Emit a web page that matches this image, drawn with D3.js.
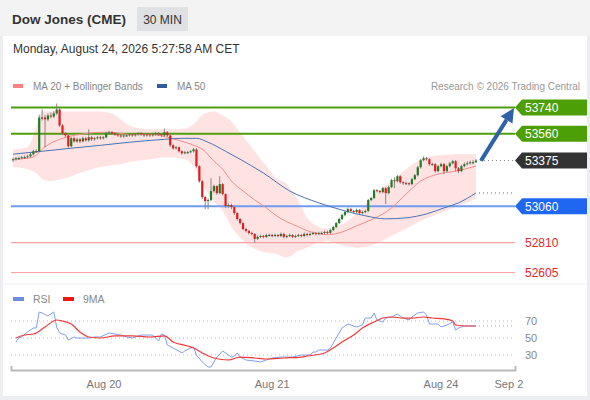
<!DOCTYPE html>
<html>
<head>
<meta charset="utf-8">
<script src="https://cdn.jsdelivr.net/npm/d3@7"></script>
<style>
  body { margin: 0; background: #eceef1; font-family: "Liberation Sans", Arial, sans-serif; }
</style>
</head>
<body>
<svg id="chart" width="590" height="400"></svg>
<script>
const TITLE = 'Dow Jones (CME)';
const PERIOD = '30 MIN';
const STAMP = 'Monday, August 24, 2026 5:27:58 AM CET';
const CREDIT = 'Research \u00a9 2026 Trading Central';

// [open, high, low, close] per 30 min candle
const candles = [
  [53377,53395,53365,53384],[53384,53400,53375,53391],[53391,53402,53380,53391],[53391,53408,53385,53398],
  [53398,53410,53388,53398],[53398,53415,53390,53404],[53404,53428,53396,53418],[53418,53448,53410,53439],
  [53439,53452,53428,53439],[53439,53690,53432,53671],[53671,53726,53650,53671],[53671,53690,53466,53658],
  [53658,53700,53645,53685],[53685,53705,53665,53678],[53678,53715,53668,53699],[53699,53767,53690,53726],
  [53726,53735,53605,53617],[53617,53625,53550,53562],[53562,53570,53535,53548],[53548,53555,53465,53473],
  [53473,53538,53466,53528],[53528,53540,53498,53507],[53507,53532,53497,53521],[53521,53530,53495,53507],
  [53507,53540,53500,53528],[53528,53538,53505,53514],[53514,53589,53505,53535],[53535,53545,53510,53521],
  [53521,53538,53512,53528],[53528,53545,53520,53535],[53535,53545,53518,53528],[53528,53545,53520,53535],
  [53535,53572,53528,53562],[53562,53580,53555,53569],[53569,53578,53552,53562],[53562,53570,53545,53555],
  [53555,53562,53538,53548],[53548,53555,53532,53541],[53541,53558,53532,53548],[53548,53558,53538,53548],
  [53548,53565,53540,53555],[53555,53562,53538,53548],[53548,53565,53540,53555],[53555,53572,53546,53562],
  [53562,53570,53545,53555],[53555,53562,53538,53548],[53548,53565,53540,53555],[53555,53562,53538,53548],
  [53548,53565,53540,53555],[53555,53572,53546,53562],[53562,53570,53545,53555],[53555,53562,53538,53548],
  [53548,53595,53540,53569],[53569,53578,53538,53548],[53548,53555,53470,53480],[53480,53488,53450,53459],
  [53459,53476,53450,53466],[53466,53472,53430,53439],[53439,53446,53415,53425],[53425,53442,53418,53432],
  [53432,53442,53422,53432],[53432,53448,53424,53439],[53439,53462,53430,53452],[53452,53460,53326,53336],
  [53336,53342,53222,53233],[53233,53240,53110,53124],[53124,53130,53041,53096],[53096,53115,53041,53103],
  [53103,53254,53095,53165],[53165,53210,53155,53199],[53199,53205,53140,53151],[53151,53267,53145,53213],
  [53213,53220,53135,53144],[53144,53150,53048,53062],[53062,53080,53050,53069],[53069,53078,53040,53055],
  [53055,53060,53000,53014],[53014,53020,52962,52973],[52973,52980,52935,52945],[52945,52950,52895,52904],
  [52904,52912,52880,52891],[52891,52898,52866,52877],[52877,52885,52860,52870],[52870,52876,52808,52836],
  [52836,52860,52828,52850],[52850,52866,52842,52856],[52856,52864,52840,52850],[52850,52872,52842,52863],
  [52863,52873,52853,52863],[52863,52870,52846,52856],[52856,52872,52848,52863],[52863,52870,52846,52856],
  [52856,52880,52848,52870],[52870,52878,52840,52850],[52850,52866,52842,52856],[52856,52872,52848,52863],
  [52863,52870,52840,52850],[52850,52866,52842,52856],[52856,52872,52848,52863],[52863,52870,52846,52856],
  [52856,52880,52848,52870],[52870,52878,52853,52863],[52863,52880,52855,52870],[52870,52886,52862,52877],
  [52877,52885,52860,52870],[52870,52886,52862,52877],[52877,52887,52867,52877],[52877,52893,52868,52884],
  [52884,52892,52867,52877],[52877,52906,52870,52897],[52897,52926,52890,52918],[52918,52953,52910,52945],
  [52945,52982,52938,52973],[52973,53010,52966,53000],[53000,53030,52992,53021],[53021,53052,53012,53041],
  [53041,53050,53018,53028],[53028,53035,53010,53021],[53021,53045,53012,53035],[53035,53042,53004,53014],
  [53014,53030,53005,53021],[53021,53038,53012,53028],[53028,53112,53020,53103],[53103,53126,53095,53117],
  [53117,53180,53110,53171],[53171,53178,53155,53165],[53165,53172,53148,53158],[53158,53195,53150,53185],
  [53185,53192,53076,53151],[53151,53202,53142,53192],[53192,53250,53185,53240],[53240,53260,53185,53233],
  [53233,53276,53225,53267],[53267,53274,53216,53226],[53226,53232,53208,53219],[53219,53230,53209,53219],
  [53219,53226,53203,53213],[53213,53256,53205,53247],[53247,53283,53240,53274],[53274,53338,53266,53329],
  [53329,53386,53320,53377],[53377,53404,53370,53391],[53391,53400,53374,53384],[53384,53390,53340,53350],
  [53350,53360,53340,53350],[53350,53358,53292,53302],[53302,53345,53295,53336],[53336,53360,53328,53350],
  [53350,53358,53282,53302],[53302,53345,53295,53336],[53336,53366,53328,53356],[53356,53380,53348,53370],
  [53370,53378,53300,53322],[53322,53330,53288,53302],[53302,53346,53295,53336],[53336,53362,53328,53350],
  [53350,53370,53342,53356],[53356,53375,53348,53363],[53363,53378,53352,53363],[53363,53385,53360,53375]
];

// MA 20 + Bollinger bands, sampled at candle indices
const bandIdx = [0,5,8,10,13,17,23,30,34,37,40,47,53,59,63,65,69,72,75,79,83,87,90,94,98,101,105,108,111,115,118,123,130,135,140,146,152,159];
const ma20 = [53384,53391,53412,53453,53494,53528,53555,53569,53569,53562,53555,53555,53535,53501,53473,53453,53371,53316,53234,53166,53104,53049,53002,52954,52920,52892,52872,52865,52872,52899,52926,52967,53049,53145,53234,53282,53302,53337];
const bbUpper = [53453,53467,53610,53713,53713,53713,53713,53713,53699,53658,53617,53590,53590,53596,53644,53692,53713,53685,53644,53542,53439,53337,53261,53214,53097,52981,52920,52906,52920,52961,53015,53118,53234,53316,53384,53412,53419,53419];
const bbLower = [53330,53316,53289,53248,53234,53248,53289,53330,53343,53350,53364,53384,53398,53384,53302,53214,53097,53029,52920,52824,52769,52742,52735,52708,52755,52776,52810,52824,52803,52783,52776,52790,52858,52906,52961,53008,53056,53111];

const ma50Idx = [0,10,20,30,40,52,58,63,67,73,78,86,95,105,114,121,128,135,142,148,153,159];
const ma50 = [53419,53439,53460,53480,53501,53521,53528,53528,53501,53439,53384,53289,53166,53084,53029,52995,52974,52981,53008,53049,53084,53152];

const rsiIdx = [1,2,3,5,7,8,9,10,12,14,15,16,18,19,21,22,24,26,28,30,33,35,37,39,41,44,46,48,50,51,52,53,55,58,59,61,62,63,65,67,68,70,72,74,75,76,77,78,80,83,85,87,89,92,94,96,99,102,103,104,105,108,109,111,113,115,117,118,120,121,123,124,125,127,128,130,132,134,136,137,139,141,142,143,146,147,149,151,152,153,155,158,159];
const rsi = [45.3,50,51.2,57.1,61.8,61.8,80.6,79.4,75.9,80.6,62.9,55.9,53.5,47.6,51.2,50,50,50,51.2,51.2,55.9,54.7,53.5,51.2,50,53.5,53.5,53.5,46.5,54.7,53.5,41.8,38.2,32.4,34.7,38.2,39.4,30,21.8,15.9,15.9,27.6,34.7,30,27.6,28.8,32.4,27.6,24.1,22.9,21.8,24.1,26.5,27.6,27.6,27.6,30,30,33.5,33.5,35.9,35.9,38.2,50,61.8,66.5,64.1,62.9,65.3,73.5,73.5,79.4,71.2,68.8,73.5,74.7,78.2,73.5,71.2,74.7,79.4,80.6,77.1,66.5,66.5,62.9,65.3,68.8,59.4,61.8,64.1,64.1,64.1];

const rsiMaIdx = [1,4,7,11,15,17,20,23,26,30,35,41,47,52,55,60,62,65,69,74,78,83,87,93,99,101,107,110,113,117,120,124,127,130,134,137,141,144,148,151,152,156,159];
const rsiMa = [50,53.5,54.7,62.9,71.2,70,66.5,57.1,51.2,50,52.4,52.4,51.2,52.4,45.3,40.6,38.2,32.4,26.5,24.1,27.6,26.5,25.3,26.5,27.6,28.8,32.4,38.2,45.3,53.5,61.8,68.8,73.5,74.7,73.5,73.5,74.7,73.5,72.4,70,65.3,64.1,64.1];

const resistances = [53740, 53560];
const pivot = 53060;
const supports = [52810, 52605];
const lastPrice = 53375;

const rsiTicks = [70, 50, 30];
const tickLabels = ['Aug 20', 'Aug 21', 'Aug 24', 'Sep 2'];
const tickIdx = [31.25, 89, 147, 170.3];

function draw() {
  const svg = d3.select('#chart');
  const W = 590;
  const left = 11, right = 515;

  // frame + header
  svg.append('rect').attr('x', 3).attr('y', 0).attr('width', 584).attr('height', 396).attr('fill', '#fff');
  svg.append('rect').attr('x', 0).attr('y', 0).attr('width', W).attr('height', 36).attr('fill', '#f3f3f3');
  svg.append('text').attr('x', 12).attr('y', 24).text(TITLE)
    .attr('font-size', 13.5).attr('font-weight', 700).attr('fill', '#333');
  svg.append('rect').attr('x', 137).attr('y', 7).attr('width', 51).attr('height', 24).attr('fill', '#dfe1e4');
  svg.append('text').attr('x', 162.5).attr('y', 23.5).attr('text-anchor', 'middle').text(PERIOD)
    .attr('font-size', 12).attr('fill', '#333');
  svg.append('text').attr('x', 13).attr('y', 53).text(STAMP).attr('font-size', 12).attr('fill', '#333');

  // legend
  const legend = [
    { x: 13, color: '#ff8080', label: 'MA 20 + Bollinger Bands' },
    { x: 157, color: '#2f5c9c', label: 'MA 50' }
  ];
  legend.forEach(l => {
    svg.append('rect').attr('x', l.x).attr('y', 84).attr('width', 10).attr('height', 4).attr('fill', l.color);
    svg.append('text').attr('x', l.x + 20).attr('y', 90).text(l.label).attr('font-size', 10).attr('fill', '#888');
  });
  svg.append('text').attr('x', 580).attr('y', 90).attr('text-anchor', 'end').text(CREDIT)
    .attr('font-size', 10).attr('fill', '#999');

  const x = d3.scaleLinear().domain([0, candles.length - 1]).range([13, 476]);
  const y = d3.scaleLinear().domain([52605, 53740]).range([272.5, 107.5]);

  // bollinger band fill
  const band = bandIdx.map((i, k) => ({ i, u: bbUpper[k], l: bbLower[k], m: ma20[k] }));
  svg.append('path').datum(band)
    .attr('d', d3.area().x(d => x(d.i)).y0(d => y(d.l)).y1(d => y(d.u)).curve(d3.curveMonotoneX))
    .attr('fill', '#ffe3e3');

  // horizontal levels
  const lineG = svg.append('g');
  resistances.forEach(v => {
    lineG.append('line').attr('x1', left).attr('x2', right).attr('y1', y(v)).attr('y2', y(v))
      .attr('stroke', '#4f9e0c').attr('stroke-width', 2);
  });
  lineG.append('line').attr('x1', left).attr('x2', right).attr('y1', y(pivot)).attr('y2', y(pivot))
    .attr('stroke', '#6f9cf2').attr('stroke-width', 2);
  supports.forEach(v => {
    lineG.append('line').attr('x1', left).attr('x2', right).attr('y1', y(v)).attr('y2', y(v))
      .attr('stroke', '#f7a3a3').attr('stroke-width', 1.2);
  });

  // moving averages
  svg.append('path').datum(band)
    .attr('d', d3.line().x(d => x(d.i)).y(d => y(d.m)).curve(d3.curveMonotoneX))
    .attr('fill', 'none').attr('stroke', '#f58c8c').attr('stroke-width', 1);
  const ma50Pts = ma50Idx.map((i, k) => ({ i, v: ma50[k] }));
  svg.append('path').datum(ma50Pts)
    .attr('d', d3.line().x(d => x(d.i)).y(d => y(d.v)).curve(d3.curveMonotoneX))
    .attr('fill', 'none').attr('stroke', '#4a73b3').attr('stroke-width', 1);
  const lastMa50 = ma50[ma50.length - 1];
  svg.append('line').attr('x1', x(159) + 3).attr('x2', right).attr('y1', y(lastMa50)).attr('y2', y(lastMa50))
    .attr('stroke', '#4a73b3').attr('stroke-dasharray', '1,3');

  // candles
  const cg = svg.append('g');
  candles.forEach((c, i) => {
    const [o, h, l, cl] = c;
    const cx = x(i);
    const up = cl >= o;
    cg.append('line').attr('x1', cx).attr('x2', cx).attr('y1', y(h)).attr('y2', y(l))
      .attr('stroke', '#7a7a7a').attr('stroke-width', 0.9);
    const top = y(Math.max(o, cl));
    const hgt = Math.max(1, y(Math.min(o, cl)) - top);
    cg.append('rect').attr('x', cx - 1.1).attr('y', top).attr('width', 2.2).attr('height', hgt)
      .attr('fill', o === cl ? '#444' : (up ? '#1f7d24' : '#e01b1b'));
  });

  // last price dotted
  svg.append('line').attr('x1', x(159) + 4).attr('x2', right).attr('y1', y(lastPrice)).attr('y2', y(lastPrice))
    .attr('stroke', '#888').attr('stroke-dasharray', '1,3');

  // forecast arrow
  const ax0 = x(159) + 5, ay0 = y(lastPrice);
  const ax1 = 514, ay1 = y(resistances[0]) + 0.5;
  const ang = Math.atan2(ay1 - ay0, ax1 - ax0);
  const hl = 14, hw = 7;
  const bx = ax1 - hl * Math.cos(ang), by = ay1 - hl * Math.sin(ang);
  svg.append('line').attr('x1', ax0).attr('y1', ay0).attr('x2', bx).attr('y2', by)
    .attr('stroke', '#2f62a6').attr('stroke-width', 4);
  svg.append('path')
    .attr('d', `M${ax1},${ay1}L${bx + hw * Math.sin(ang)},${by - hw * Math.cos(ang)}L${bx - hw * Math.sin(ang)},${by + hw * Math.cos(ang)}Z`)
    .attr('fill', '#2f62a6');

  // price labels
  const tags = [
    ...resistances.map(v => ({ v, fill: '#4c9f06', text: '#fff' })),
    { v: lastPrice, fill: '#333', text: '#fff' },
    { v: pivot, fill: '#1f67f0', text: '#fff' }
  ];
  tags.forEach(t => {
    const ty = y(t.v);
    svg.append('path')
      .attr('d', `M515,${ty}L522,${ty - 8}L587,${ty - 8}L587,${ty + 8}L522,${ty + 8}Z`)
      .attr('fill', t.fill);
    svg.append('text').attr('x', 525).attr('y', ty + 4.5).text(t.v)
      .attr('font-size', 12).attr('fill', t.text);
  });
  supports.forEach(v => {
    svg.append('text').attr('x', 525).attr('y', y(v) + 4.5).text(v)
      .attr('font-size', 12).attr('fill', '#e8262a');
  });

  // panel separator
  svg.append('line').attr('x1', 3).attr('x2', 587).attr('y1', 284).attr('y2', 284).attr('stroke', '#eeeeee');

  // RSI panel
  const yR = d3.scaleLinear().domain([30, 70]).range([355, 321]);
  const rLegend = [
    { x: 13, color: '#6c8fe6', label: 'RSI' },
    { x: 63, color: '#f01515', label: '9MA' }
  ];
  rLegend.forEach(l => {
    svg.append('rect').attr('x', l.x).attr('y', 297).attr('width', 11).attr('height', 4).attr('fill', l.color);
    svg.append('text').attr('x', l.x + 20).attr('y', 303).text(l.label).attr('font-size', 10.5).attr('fill', '#888');
  });

  rsiTicks.forEach(t => {
    svg.append('line').attr('x1', left).attr('x2', right).attr('y1', yR(t)).attr('y2', yR(t))
      .attr('stroke', '#bbb').attr('stroke-dasharray', '1,3');
    svg.append('text').attr('x', 525).attr('y', yR(t) + 4).text(t).attr('font-size', 11).attr('fill', '#888');
  });

  const rsiPts = rsiIdx.map((i, k) => ({ i, v: rsi[k] }));
  svg.append('path').datum(rsiPts)
    .attr('d', d3.line().x(d => x(d.i)).y(d => yR(d.v)))
    .attr('fill', 'none').attr('stroke', '#7f9ff0').attr('stroke-width', 1);
  const lastRsi = rsi[rsi.length - 1];
  svg.append('line').attr('x1', x(159) + 3).attr('x2', right).attr('y1', yR(lastRsi)).attr('y2', yR(lastRsi))
    .attr('stroke', '#7f9ff0').attr('stroke-dasharray', '1,3');

  const rsiMaPts = rsiMaIdx.map((i, k) => ({ i, v: rsiMa[k] }));
  svg.append('path').datum(rsiMaPts)
    .attr('d', d3.line().x(d => x(d.i)).y(d => yR(d.v)).curve(d3.curveMonotoneX))
    .attr('fill', 'none').attr('stroke', '#f03a3a').attr('stroke-width', 1.2);

  // time axis
  svg.append('path').attr('d', 'M11.5,366V370.5H515.5V366')
    .attr('fill', 'none').attr('stroke', '#bbb').attr('stroke-width', 2);
  tickLabels.forEach((lab, k) => {
    svg.append('text').attr('x', x(tickIdx[k])).attr('y', 388).attr('text-anchor', 'middle').text(lab)
      .attr('font-size', 11).attr('fill', '#777');
  });
}

window.addEventListener('DOMContentLoaded', draw);
</script>
</body>
</html>
